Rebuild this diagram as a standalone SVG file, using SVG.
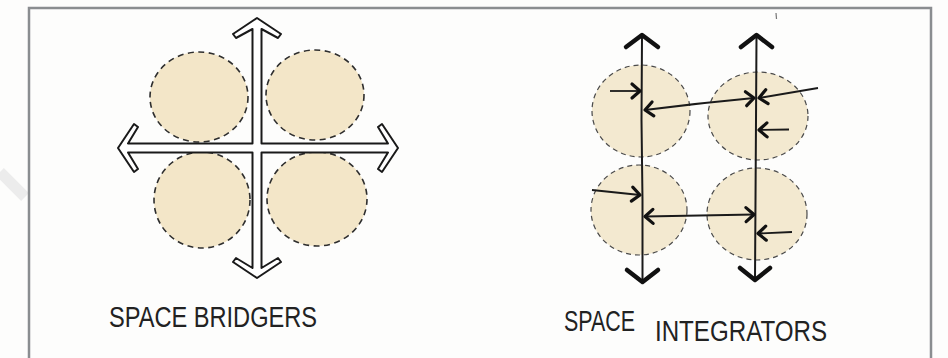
<svg xmlns="http://www.w3.org/2000/svg" width="948" height="358" viewBox="0 0 948 358">
  <style>
    .bg { fill: #fdfdfc; }
    .frame { fill: none; stroke: #8a8d90; stroke-width: 2.5; }
    .zoneL { fill: #f3e6c8; stroke: #2e2e2e; stroke-width: 1.6; stroke-dasharray: 6 4.5; }
    .zoneR { fill: #f3e9d0; stroke: #4a4a4a; stroke-width: 1.2; stroke-dasharray: 5 4; }
    .cross { fill: #ffffff; stroke: #1a1a1a; stroke-width: 2; stroke-linejoin: round; }
    .axis { fill: none; stroke: #1a1a1a; stroke-width: 2; }
    .bighead { fill: none; stroke: #111; stroke-width: 4.5; stroke-linecap: round; stroke-linejoin: round; }
    .flow { fill: none; stroke: #1a1a1a; stroke-width: 1.8; }
    .label { font-family: "Liberation Sans", "DejaVu Sans", sans-serif; font-size: 29px; fill: #222; }
  </style>
  <defs>
    <marker id="head" markerUnits="userSpaceOnUse" markerWidth="22" markerHeight="22" viewBox="-11 -11 22 22" refX="0" refY="0" orient="auto-start-reverse">
      <path d="M-8,-7 L0,0 L-8,7" fill="none" stroke="#111" stroke-width="3.2" stroke-linecap="round" stroke-linejoin="round"/>
    </marker>
  </defs>

  <rect class="bg" x="0" y="0" width="948" height="358"/>
  <line x1="0" y1="172" x2="25" y2="197" stroke="#ececec" stroke-width="11"/>
  <path class="frame" d="M29,358 L29,8 L931,8 L931,358"/>
  <line x1="776" y1="13" x2="776.5" y2="19" stroke="#777" stroke-width="1.2"/>

  <!-- Space bridgers -->
  <g id="bridgers">
    <g id="bridger-zone-tl"><ellipse class="zoneL" cx="199" cy="97" rx="49" ry="45"/></g>
    <g id="bridger-zone-tr"><ellipse class="zoneL" cx="315" cy="95" rx="49" ry="45"/></g>
    <g id="bridger-zone-bl"><ellipse class="zoneL" cx="202" cy="200" rx="48" ry="48"/></g>
    <g id="bridger-zone-br"><ellipse class="zoneL" cx="317" cy="199" rx="50" ry="47"/></g>
  </g>

  <!-- Space integrators -->
  <g id="integrators">
    <g id="integrator-zone-tl"><ellipse class="zoneR" cx="641" cy="111" rx="49" ry="46"/></g>
    <g id="integrator-zone-tr"><ellipse class="zoneR" cx="758" cy="116" rx="50" ry="44"/></g>
    <g id="integrator-zone-bl"><ellipse class="zoneR" cx="639" cy="210" rx="48" ry="45"/></g>
    <g id="integrator-zone-br"><ellipse class="zoneR" cx="757" cy="214" rx="50" ry="46"/></g>
  </g>

  <g id="connectors">
    <!-- hollow cross of the bridgers -->
    <path class="cross" d="M257,18 L281,34 L278,38 L261.5,29 L261.5,143.5 L388,143.5 L378,127 L382,124 L398,148 L382,172 L378,169 L388,152.5 L261.5,152.5 L261.5,268 L278,258 L281,262 L257,278 L233,262 L236,258 L252.5,268 L252.5,152.5 L128,152.5 L138,169 L134,172 L118,148 L134,124 L138,127 L128,143.5 L252.5,143.5 L252.5,29 L236,38 L233,34 Z"/>

    <!-- integrator axes -->
    <path class="axis" d="M642,36 L641.5,120 L642.5,200 L642.5,281"/>
    <path class="bighead" d="M626,47 L642,35 L658,47"/>
    <path class="bighead" d="M627,270 L642.5,282 L658,270"/>
    <path class="axis" d="M756.5,36 L756,120 L755.5,200 L755,280"/>
    <path class="bighead" d="M741,47 L756.5,35 L772,47"/>
    <path class="bighead" d="M740,268 L755,280 L770,268"/>

    <!-- integrator flows -->
    <path class="flow" d="M610,91 L640,91" marker-end="url(#head)"/>
    <path class="flow" d="M645,110 Q700,103 754,98" marker-start="url(#head)" marker-end="url(#head)"/>
    <path class="flow" d="M818,88 L759,98" marker-end="url(#head)"/>
    <path class="flow" d="M789,129.5 L759,130" marker-end="url(#head)"/>
    <path class="flow" d="M592,190 L640,195" marker-end="url(#head)"/>
    <path class="flow" d="M645,216.5 L754,214.5" marker-start="url(#head)" marker-end="url(#head)"/>
    <path class="flow" d="M792,232 L758,233.5" marker-end="url(#head)"/>
  </g>

  <g id="labels">
    <text class="label" x="109" y="327" textLength="208" lengthAdjust="spacingAndGlyphs">SPACE BRIDGERS</text>
    <text class="label"><tspan x="564" y="331" textLength="71" lengthAdjust="spacingAndGlyphs">SPACE</tspan><tspan x="655" y="341" textLength="172" lengthAdjust="spacingAndGlyphs">INTEGRATORS</tspan></text>
  </g>
</svg>
